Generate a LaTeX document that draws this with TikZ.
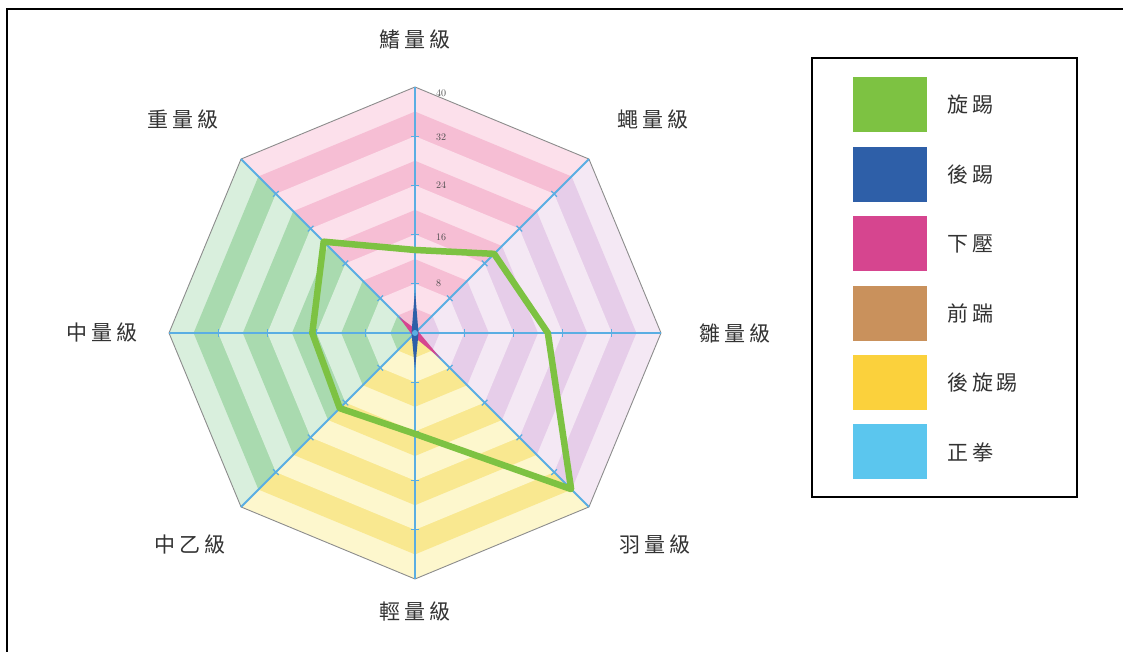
\documentclass[tikz,border=0pt]{standalone}
\usepackage{fontspec}
\newfontfamily\cjk[LetterSpace=18]{Noto Sans CJK TC}
\usetikzlibrary{positioning,calc}
\definecolor{axisblue}{HTML}{5AAEE3}
\definecolor{rimgray}{HTML}{8C8C8C}
\definecolor{pinkL}{HTML}{FCE0EB}
\definecolor{pinkD}{HTML}{F6BED4}
\definecolor{lilacL}{HTML}{F4E8F4}
\definecolor{lilacD}{HTML}{E6CDE9}
\definecolor{yelL}{HTML}{FDF7CD}
\definecolor{yelD}{HTML}{F9E890}
\definecolor{grnL}{HTML}{D9EFDD}
\definecolor{grnD}{HTML}{A9DAAF}
\definecolor{kickgreen}{HTML}{7DC242}
\definecolor{kickblue}{HTML}{2E5FA8}
\definecolor{kickpink}{HTML}{D6458F}
\definecolor{kickbrown}{HTML}{C9915C}
\definecolor{kickyellow}{HTML}{FBD13C}
\definecolor{kickcyan}{HTML}{5BC6EE}

\begin{document}
\begin{tikzpicture}[x=1pt, y=1pt]
	\tikzstyle{axislbl} = [font=\cjk\fontsize{21}{24}\selectfont, text=black!80, inner sep=0pt]
	\tikzstyle{ticklbl} = [font=\fontsize{10}{11}\selectfont, text=black!70, anchor=west, inner sep=0pt]
	\tikzstyle{axisline} = [draw=axisblue, line width=2pt]
	\tikzstyle{swatch} = [rectangle, minimum width=74pt, minimum height=55pt, inner sep=0pt]
	\tikzstyle{legtext} = [font=\cjk\fontsize{21}{24}\selectfont, text=black!80, inner sep=0pt]
	\useasboundingbox (0,0) rectangle (1123,652);
	\draw[line width=2.5pt] (7,0) -- (7,643) -- (1123,643);

	\begin{scope}[shift={(415,319)}]
	\def\R{246}
	\def\u{6.15}
	\coordinate (c) at (0,0);
	% striped quarters
	\foreach \a/\lc/\dc in {90/pinkL/pinkD, 0/lilacL/lilacD, -90/yelL/yelD, 180/grnL/grnD}{
		\foreach \i in {10,...,1}{
			\pgfmathsetmacro\r{\i*\R/10}
			\pgfmathtruncatemacro\odd{mod(\i,2)}
			\ifnum\odd=1 \edef\fc{\dc}\else\edef\fc{\lc}\fi
			\fill[fill=\fc] (c) -- (\a-45:\r) -- (\a:\r) -- (\a+45:\r) -- cycle;
		}
	}
	\draw[rimgray, line width=0.9pt] (0:\R) -- (45:\R) -- (90:\R) -- (135:\R) -- (180:\R)
		-- (225:\R) -- (270:\R) -- (315:\R) -- cycle;

	\foreach \a in {0,45,...,315}{
		\draw[axisline] (c) -- (\a:\R);
		\foreach \k in {1,...,4}
			\draw[axisblue, line width=1.2pt] ($(\a:{\k*\R/5})+(\a+90:4)$) -- ($(\a:{\k*\R/5})+(\a-90:4)$);
	}

	\foreach \v/\y in {8/50, 16/96, 24/148, 32/196, 40/240}
		\node[ticklbl] (tick\v) at (21,\y) {\v};

	% data
	\fill[kickpink] (135:{3.7*\u}) -- (45:3.5) -- (-45:{6*\u}) -- (-135:3.5) -- cycle;
	\fill[kickblue] (90:{7*\u}) -- (0:3.5) -- (-90:{6*\u}) -- (180:3.5) -- cycle;
	\fill[axisblue] (c) circle (3);
	\draw[kickgreen, line width=6.5pt, line join=round] (90:{13.5*\u}) -- (45:{18.2*\u})
		-- (0:{21.6*\u}) -- (-45:{35.9*\u}) -- (-90:{16.4*\u}) -- (-135:{17.3*\u})
		-- (180:{16.7*\u}) -- (135:{21*\u}) -- cycle;
	\end{scope}

	\foreach \n/\x/\y/\t in {1/415/612/鰭量級, 2/653/532/蠅量級, 3/735/319/雛量級, 4/655/107/羽量級,
		5/415/40/輕量級, 6/190/107/中乙級, 7/102/319/中量級, 8/183/532/重量級}
		\node[axislbl] (lbl\n) at (\x,\y) {\t};

	% legend
	\node[draw, line width=2pt, minimum width=265pt, minimum height=439pt] (legend) at (944.5,374.5) {};
	\node[swatch, fill=kickgreen] (sw1) at (890,547) {};
	\node[swatch, fill=kickblue, below=14pt of sw1] (sw2) {};
	\node[swatch, fill=kickpink, below=14pt of sw2] (sw3) {};
	\node[swatch, fill=kickbrown, below=14pt of sw3] (sw4) {};
	\node[swatch, fill=kickyellow, below=14pt of sw4] (sw5) {};
	\node[swatch, fill=kickcyan, below=14pt of sw5] (sw6) {};
	\node[legtext, right=20pt of sw1] (t1) {旋踢};
	\node[legtext, right=20pt of sw2] (t2) {後踢};
	\node[legtext, right=20pt of sw3] (t3) {下壓};
	\node[legtext, right=20pt of sw4] (t4) {前踹};
	\node[legtext, right=20pt of sw5] (t5) {後旋踢};
	\node[legtext, right=20pt of sw6] (t6) {正拳};
\end{tikzpicture}
\end{document}
